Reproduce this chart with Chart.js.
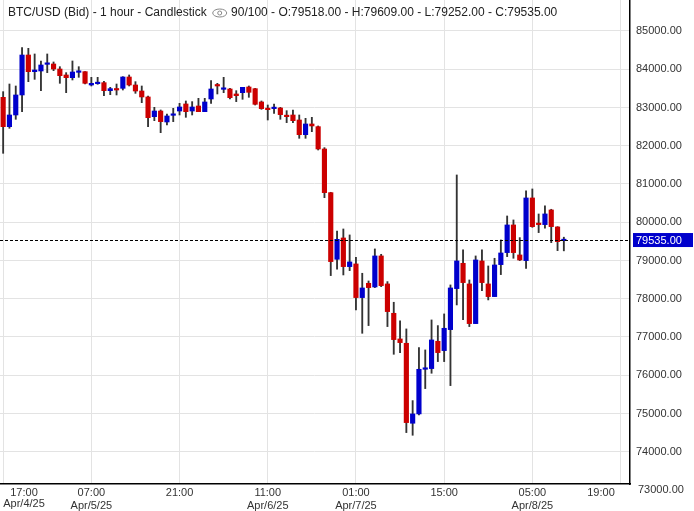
<!DOCTYPE html>
<html><head><meta charset="utf-8">
<script src="https://cdn.jsdelivr.net/npm/chart.js@4/dist/chart.umd.min.js"></script>
<style>html,body{margin:0;padding:0;background:#fff}#w{width:694px;height:511px}</style>
</head><body><div id="w"><canvas id="c"></canvas></div>
<script>
const opens=[83266,82499,82804,83327,84372,83937,83954,84128,84137,84006,83850,83780,83919,83937,83588,83623,83649,83440,83475,83501,83797,83588,83431,83275,82760,82908,82621,82795,82908,83092,82908,83039,82891,83222,83580,83475,83484,83353,83388,83536,83492,83144,82970,82970,82987,82795,82804,82673,82290,82569,82499,81915,
80774,79032,79589,78840,78910,78030,78404,78308,79119,78387,77620,76949,76836,74745,74989,76156,76174,76888,76644,77193,78265,78927,78387,77350,78988,78387,78056,78892,79206,79929,79145,78997,80635,79955,79938,80321,79877,79518];
const highs=[83414,83614,83562,84564,84547,84399,84216,84399,84190,84067,83911,84216,84067,83937,83789,83789,83684,83527,83614,83806,83850,83675,83562,83301,83004,82935,82830,82978,83109,83170,83153,83240,83240,83702,83632,83789,83501,83440,83527,83562,83501,83170,83065,83092,83004,82917,82935,82804,82717,82743,82517,81950,
80783,79772,79824,79668,79084,78666,78465,79302,79162,78448,77908,77420,77211,75337,76723,76662,77446,77298,77603,78361,81236,79276,78491,79119,79276,78857,79058,79537,80164,80060,79598,80818,80870,80216,80426,80339,79885,79609];
const lows=[81802,82456,82691,82891,83675,83736,83440,83911,83963,83632,83388,83719,83789,83614,83562,83606,83309,83336,83327,83457,83562,83370,83126,82499,82656,82342,82543,82630,82804,82743,82804,82891,82891,83109,83353,83388,83222,83153,83214,83266,83065,82952,82673,82848,82691,82604,82604,82194,82194,82368,81889,80643,
78605,78770,78622,78735,77707,77097,77298,78291,78317,77272,76548,76592,74501,74431,74963,75651,76052,76357,76357,75729,77838,77455,77272,77350,78213,77969,78056,78631,79101,79058,78997,78796,79868,79729,79842,79467,79258,79252];
const closes=[82499,82804,83327,84372,83937,83980,84111,84146,84006,83832,83780,83928,83937,83632,83632,83640,83440,83492,83457,83797,83588,83431,83275,82734,82908,82630,82778,82804,83013,82891,83013,82891,83144,83484,83562,83484,83257,83309,83527,83397,83083,82970,82943,82987,82813,82760,82656,82290,82569,82517,81915,80774,
78971,79554,78840,78962,78030,78282,78291,79119,78343,77664,76932,76853,74762,74989,76156,76165,76923,76592,77228,78282,78988,78422,77350,79014,78422,78056,78883,79197,79929,79206,79014,80635,79885,79938,80217,79885,79493,79535];
const tickHours=["17:00","07:00","21:00","11:00","01:00","15:00","05:00","19:00"];
const tickDates=["Apr/4/25","Apr/5/25","","Apr/6/25","Apr/7/25","","Apr/8/25",""];
const yTicks=[73000,74000,75000,76000,77000,78000,79000,80000,81000,82000,83000,84000,85000];
const N=100;
const labels=[];for(let i=0;i<N;i++)labels.push(i);
const wick=opens.map((o,i)=>[lows[i],highs[i]]);
const body=opens.map((o,i)=>[o,closes[i]]);
const col=opens.map((o,i)=>closes[i]>=o?'#0000cc':'#cc0000');
const last=closes[closes.length-1];
const overlay={id:'ov',afterDraw(ch){
 const c=ch.ctx,y=ch.scales.y,a=ch.chartArea;
 const py=y.getPixelForValue(last);
 c.save();c.strokeStyle='#000';c.lineWidth=1;c.setLineDash([3,2]);
 c.beginPath();c.moveTo(a.left,Math.round(py)+0.5);c.lineTo(a.right,Math.round(py)+0.5);c.stroke();c.setLineDash([]);
 c.fillStyle='#0000cc';c.fillRect(a.right+3,py-7,60,14);
 c.fillStyle='#fff';c.font='11px "Liberation Sans"';c.textAlign='left';c.textBaseline='middle';
 c.fillText(last.toFixed(2),a.right+6,py+0.5);
 c.fillStyle='#333';c.fillText('73000.00',a.right+8,a.bottom+6);
 c.textAlign='center';c.textBaseline='top';
 c.fillText(tickHours[0],24,a.bottom+3);c.fillText(tickDates[0],24,a.bottom+14);
 c.fillText(tickHours[7],601,a.bottom+3);
 c.textAlign='left';
 c.font='12px "Liberation Sans"';c.fillStyle='#222';c.textBaseline='middle';
 const t1='BTC/USD (Bid) - 1 hour - Candlestick';c.fillText(t1,8,13);
 let x=8+c.measureText(t1).width+6;
 c.strokeStyle='#888';c.lineWidth=1;c.beginPath();c.ellipse(x+7,13,7,4,0,0,Math.PI*2);c.stroke();
 c.beginPath();c.arc(x+7,13,2,0,Math.PI*2);c.stroke();
 c.fillText(' 90/100 - O:79518.00 - H:79609.00 - L:79252.00 - C:79535.00',x+15,13);
 c.restore();
}};
new Chart(document.getElementById('c'),{
 type:'bar',
 data:{labels,datasets:[
  {data:wick,backgroundColor:'#333',barThickness:1.2,grouped:false,order:2},
  {data:body,backgroundColor:col,barThickness:4.5,grouped:false,minBarLength:1.5,order:1}
 ]},
 options:{responsive:true,maintainAspectRatio:false,animation:false,
  layout:{padding:0},
  plugins:{legend:{display:false},tooltip:{enabled:false}},
  scales:{
   x:{offset:true,
    grid:{offset:false,color:(c)=>(c.index%14===0?'#e3e3e3':'rgba(0,0,0,0)'),drawTicks:false},
    border:{color:'#000',width:1.5},
    afterFit(s){s.height=27;s.paddingLeft=0;s.paddingRight=0;},
    ticks:{autoSkip:false,maxRotation:0,padding:2,color:'#333',font:{family:'Liberation Sans',size:11},
     callback:(v,i)=>{if(i%14!==0||i===0||i===98)return '';const k=i/14;return tickDates[k]?[tickHours[k],tickDates[k]]:tickHours[k];}}},
   y:{position:'right',min:73157,max:85810,
    afterBuildTicks(s){s.ticks=yTicks.filter(v=>v>=s.min&&v<=s.max).map(v=>({value:v}));},
    afterFit(s){s.width=64;s.paddingTop=0;s.paddingBottom=0;},
    grid:{color:'#e3e3e3',drawTicks:false},
    border:{color:'#000',width:1.5},
    ticks:{padding:6,color:'#333',font:{family:'Liberation Sans',size:11},callback:v=>Number(v).toFixed(2)}}
  }},
 plugins:[overlay]
});
</script></body></html>
